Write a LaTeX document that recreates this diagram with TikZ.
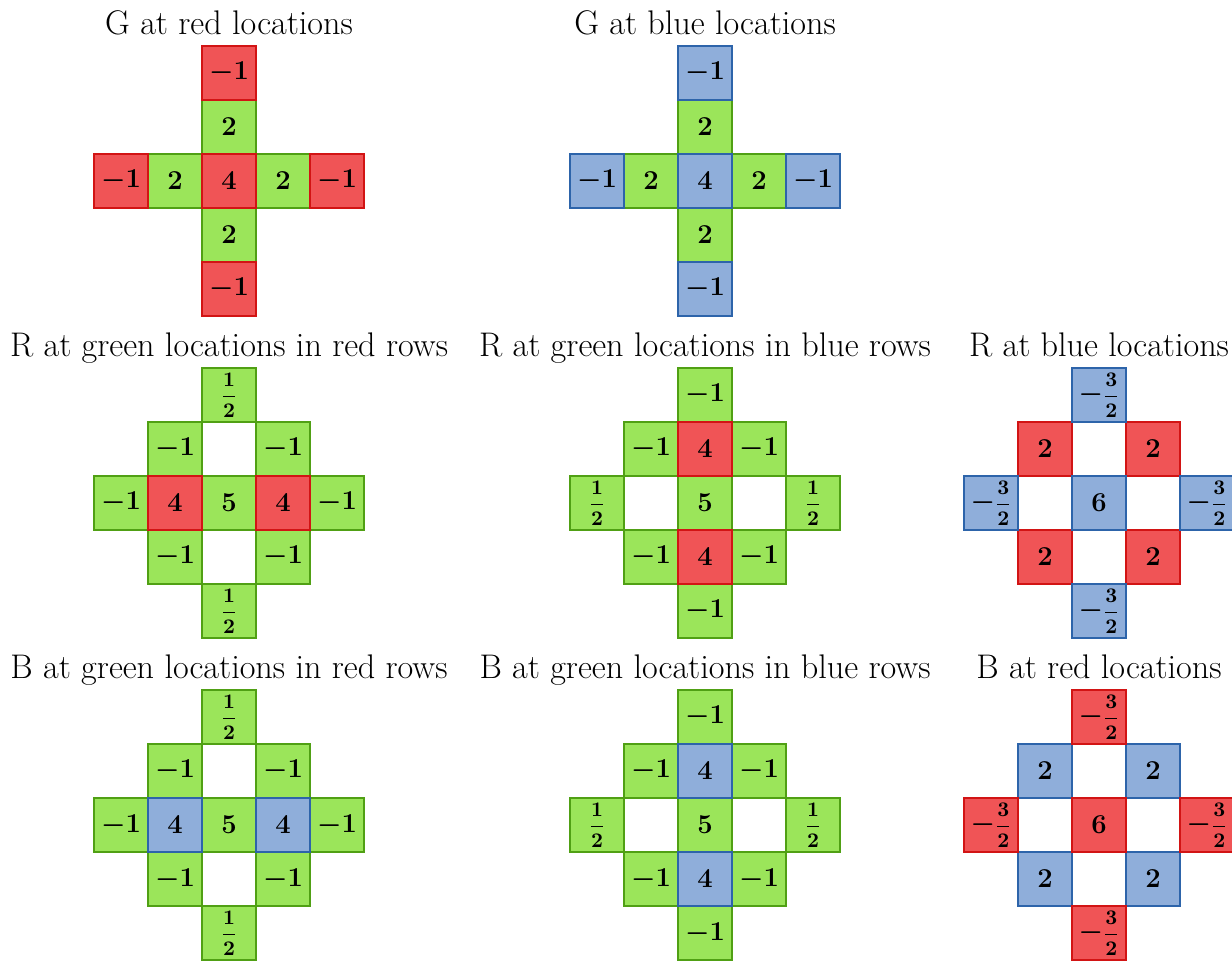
\documentclass[tikz,border=0pt]{standalone}
\usepackage{amsmath}
\definecolor{redF}{RGB}{240,84,86}
\definecolor{redD}{RGB}{210,20,20}
\definecolor{greenF}{RGB}{155,229,90}
\definecolor{greenD}{RGB}{80,160,20}
\definecolor{blueF}{RGB}{143,174,218}
\definecolor{blueD}{RGB}{45,100,170}
\newcommand{\cellfrac}[2]{\mbox{\fontsize{10.5}{12}\selectfont\boldmath$\dfrac{#1}{#2}$}}
\begin{document}
\begin{tikzpicture}[
    cell/.style={draw, line width=0.8pt, minimum size=1cm, inner sep=0pt, outer sep=0pt,
        font=\fontsize{15.5}{18}\selectfont\boldmath},
    gc/.style={cell, fill=greenF, draw=greenD},
    rc/.style={cell, fill=redF, draw=redD},
    bc/.style={cell, fill=blueF, draw=blueD},
    title/.style={anchor=base, font=\fontsize{18}{21}\selectfont}]
    \useasboundingbox (0,0) rectangle (22.815,-17.796);

    % 1. G at red locations
    \node[title] (t1) at (4.241,-0.648) {G at red locations};
    \begin{scope}[shift={(4.241,-3.352)}]
    \foreach \x/\y/\s/\l [count=\i] in {0/1/gc/2, -1/0/gc/2, 1/0/gc/2, 0/-1/gc/2,
        0/2/rc/-1, -2/0/rc/-1, 0/0/rc/4, 2/0/rc/-1, 0/-2/rc/-1}
        \node[\s] (a\i) at (\x,\y) {$\l$};
    \end{scope}

    % 2. G at blue locations
    \node[title] (t2) at (13.056,-0.648) {G at blue locations};
    \begin{scope}[shift={(13.056,-3.352)}]
    \foreach \x/\y/\s/\l [count=\i] in {0/1/gc/2, -1/0/gc/2, 1/0/gc/2, 0/-1/gc/2,
        0/2/bc/-1, -2/0/bc/-1, 0/0/bc/4, 2/0/bc/-1, 0/-2/bc/-1}
        \node[\s] (b\i) at (\x,\y) {$\l$};
    \end{scope}

    % 3. R at green locations in red rows
    \node[title] (t3) at (4.241,-6.611) {R at green locations in red rows};
    \begin{scope}[shift={(4.241,-9.315)}]
    \foreach \x/\y/\s/\l [count=\i] in {0/2/gc/{\cellfrac12}, -1/1/gc/-1, 1/1/gc/-1,
        -2/0/gc/-1, 0/0/gc/5, 2/0/gc/-1, -1/-1/gc/-1, 1/-1/gc/-1, 0/-2/gc/{\cellfrac12},
        -1/0/rc/4, 1/0/rc/4}
        \node[\s] (c\i) at (\x,\y) {$\l$};
    \end{scope}

    % 4. R at green locations in blue rows
    \node[title] (t4) at (13.056,-6.611) {R at green locations in blue rows};
    \begin{scope}[shift={(13.056,-9.315)}]
    \foreach \x/\y/\s/\l [count=\i] in {0/2/gc/-1, -1/1/gc/-1, 1/1/gc/-1,
        -2/0/gc/{\cellfrac12}, 0/0/gc/5, 2/0/gc/{\cellfrac12}, -1/-1/gc/-1, 1/-1/gc/-1, 0/-2/gc/-1,
        0/1/rc/4, 0/-1/rc/4}
        \node[\s] (d\i) at (\x,\y) {$\l$};
    \end{scope}

    % 5. R at blue locations
    \node[title] (t5) at (20.352,-6.611) {R at blue locations};
    \begin{scope}[shift={(20.352,-9.315)}]
    \foreach \x/\y/\s/\l [count=\i] in {-1/1/rc/2, 1/1/rc/2, -1/-1/rc/2, 1/-1/rc/2,
        0/2/bc/{-\cellfrac32}, -2/0/bc/{-\cellfrac32}, 0/0/bc/6, 2/0/bc/{-\cellfrac32}, 0/-2/bc/{-\cellfrac32}}
        \node[\s] (e\i) at (\x,\y) {$\l$};
    \end{scope}

    % 6. B at green locations in red rows
    \node[title] (t6) at (4.241,-12.574) {B at green locations in red rows};
    \begin{scope}[shift={(4.241,-15.278)}]
    \foreach \x/\y/\s/\l [count=\i] in {0/2/gc/{\cellfrac12}, -1/1/gc/-1, 1/1/gc/-1,
        -2/0/gc/-1, 0/0/gc/5, 2/0/gc/-1, -1/-1/gc/-1, 1/-1/gc/-1, 0/-2/gc/{\cellfrac12},
        -1/0/bc/4, 1/0/bc/4}
        \node[\s] (f\i) at (\x,\y) {$\l$};
    \end{scope}

    % 7. B at green locations in blue rows
    \node[title] (t7) at (13.056,-12.574) {B at green locations in blue rows};
    \begin{scope}[shift={(13.056,-15.278)}]
    \foreach \x/\y/\s/\l [count=\i] in {0/2/gc/-1, -1/1/gc/-1, 1/1/gc/-1,
        -2/0/gc/{\cellfrac12}, 0/0/gc/5, 2/0/gc/{\cellfrac12}, -1/-1/gc/-1, 1/-1/gc/-1, 0/-2/gc/-1,
        0/1/bc/4, 0/-1/bc/4}
        \node[\s] (g\i) at (\x,\y) {$\l$};
    \end{scope}

    % 8. B at red locations
    \node[title] (t8) at (20.352,-12.574) {B at red locations};
    \begin{scope}[shift={(20.352,-15.278)}]
    \foreach \x/\y/\s/\l [count=\i] in {-1/1/bc/2, 1/1/bc/2, -1/-1/bc/2, 1/-1/bc/2,
        0/2/rc/{-\cellfrac32}, -2/0/rc/{-\cellfrac32}, 0/0/rc/6, 2/0/rc/{-\cellfrac32}, 0/-2/rc/{-\cellfrac32}}
        \node[\s] (h\i) at (\x,\y) {$\l$};
    \end{scope}
\end{tikzpicture}
\end{document}
